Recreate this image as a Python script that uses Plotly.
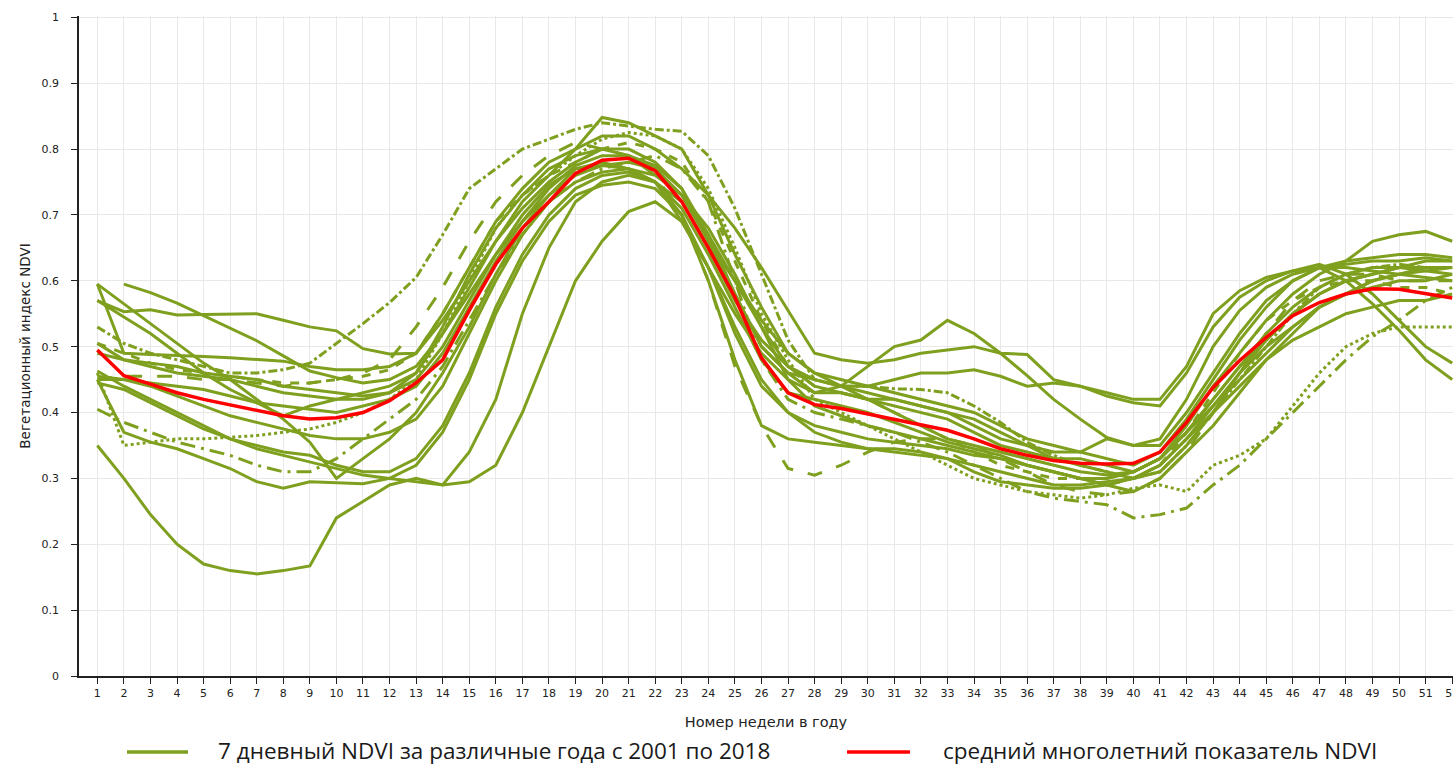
import plotly.graph_objects as go

weeks = list(range(1, 53))
week_labels = [str(w) for w in weeks]

S1 = [0.35,0.30,0.245,0.20,0.17,0.16,0.155,0.16,0.167,0.24,0.265,0.29, 0.30,0.29,0.295,0.32,0.40,0.50,0.60, 0.66,0.705,0.72,0.69,0.62,0.53,0.45,0.40, 0.37,0.355,0.345,0.34,0.335,0.33,0.32,0.31,0.30,0.29,0.29,0.295,0.30,0.32, 0.36,0.41,0.46,0.50,0.53,0.56,0.58,0.59,0.60,0.60,0.61]
S2 = [None,0.595,0.582,0.566,0.547,0.527,0.509,0.486,0.463,0.453,0.445,0.45, 0.47,0.52,0.58,0.64,0.69,0.73,0.76, 0.775,0.78,0.77,0.73,0.67,0.60,0.53,0.47, 0.44,0.43,0.42,0.41,0.40,0.39,0.37,0.35,0.34,0.33,0.33,0.32,0.31,0.33, 0.37,0.42,0.47,0.52,0.56,0.59,0.61,0.62,0.62,0.615,0.61]
S3 = [0.53,0.505,0.49,0.48,0.47,0.46,0.46,0.465,0.475,0.505,0.535,0.567, 0.605,0.67,0.74,0.77,0.80,0.815,0.83, 0.84,0.835,0.83,0.827,0.79,0.71,0.61,0.51, 0.45,0.44,0.44,0.436,0.435,0.43,0.41,0.385,0.355,0.335,0.32,0.31,0.30,0.31, 0.35,0.40,0.45,0.50,0.55,0.59,0.61,0.62,0.625,0.62,0.62]
S4 = [0.57,0.553,0.556,0.548,0.549,0.55,0.55,0.54,0.53,0.524,0.497,0.489, 0.49,0.55,0.62,0.69,0.74,0.78,0.80, 0.82,0.82,0.80,0.77,0.73,0.68,0.62,0.555, 0.49,0.48,0.475,0.48,0.49,0.495,0.50,0.49,0.488,0.45,0.44,0.425,0.415,0.41, 0.46,0.53,0.575,0.60,0.615,0.62,0.62,0.615,0.61,0.605,0.60]
S5 = [0.595,0.49,0.488,0.487,0.485,0.483,0.48,0.478,0.47,0.465,0.465,0.47, 0.49,0.54,0.60,0.66,0.71,0.75,0.78, 0.80,0.80,0.78,0.74,0.66,0.58,0.50,0.46, 0.45,0.44,0.44,0.45,0.46,0.46,0.465,0.455,0.44,0.445,0.44,0.43,0.42,0.42, 0.47,0.55,0.585,0.605,0.615,0.625,0.61,0.58,0.54,0.50,0.475]
S6 = [0.595,0.565,0.535,0.505,0.475,0.45,0.42,0.39,0.355,0.30,0.33,0.36, 0.40,0.46,0.53,0.61,0.68,0.73,0.77, 0.78,0.77,0.75,0.70,0.62,0.52,0.44,0.40, 0.38,0.37,0.36,0.355,0.35,0.345,0.335,0.33,0.32,0.31,0.30,0.30,0.31,0.33, 0.37,0.41,0.45,0.49,0.53,0.56,0.58,0.60,0.61,0.615,0.62]
S7 = [0.57,0.545,0.52,0.49,0.46,0.435,0.415,0.395,0.41,0.42,0.43,0.44, 0.46,0.52,0.59,0.66,0.72,0.76,0.80, 0.848,0.84,0.82,0.80,0.73,0.64,0.56,0.49, 0.46,0.45,0.44,0.43,0.42,0.41,0.40,0.38,0.36,0.35,0.34,0.33,0.32,0.34, 0.39,0.45,0.51,0.56,0.60,0.62,0.625,0.63,0.63,0.635,0.63]
S8 = [0.46,0.35,0.355,0.36,0.36,0.362,0.365,0.37,0.375,0.385,0.40,0.42, 0.45,0.52,0.60,0.68,0.73,0.76,0.79, 0.815,0.825,0.82,0.80,0.74,0.65,0.55,0.48, 0.42,0.40,0.38,0.36,0.34,0.32,0.30,0.29,0.28,0.275,0.27,0.275,0.285,0.29, 0.28,0.32,0.335,0.36,0.41,0.46,0.50,0.52,0.53,0.53,0.53]
S9 = [0.405,0.385,0.37,0.355,0.345,0.335,0.32,0.31,0.31,0.33,0.36,0.39, 0.42,0.47,0.54,0.61,0.67,0.72,0.75, 0.77,0.78,0.79,0.77,0.72,0.60,0.48,0.42, 0.40,0.39,0.38,0.37,0.355,0.34,0.32,0.30,0.28,0.27,0.265,0.26,0.24,0.245, 0.255,0.29,0.32,0.36,0.40,0.44,0.48,0.515,0.54,0.57,0.59]
S10 = [0.45,0.455,0.455,0.455,0.45,0.45,0.445,0.44,0.445,0.45,0.46,0.48, 0.53,0.59,0.66,0.72,0.76,0.79,0.81, 0.80,0.79,0.76,0.70,0.60,0.47,0.38,0.315, 0.305,0.32,0.34,0.355,0.36,0.36,0.35,0.33,0.31,0.29,0.28,0.275,0.28,0.30, 0.34,0.40,0.46,0.52,0.57,0.60,0.61,0.61,0.60,0.60,0.60]
S11 = [0.505,0.49,0.475,0.465,0.46,0.455,0.45,0.445,0.445,0.45,0.455,0.465, 0.49,0.55,0.62,0.69,0.73,0.76,0.78, 0.80,0.81,0.80,0.78,0.72,0.63,0.54,0.47, 0.44,0.43,0.42,0.40,0.38,0.36,0.34,0.32,0.31,0.30,0.30,0.29,0.30,0.32, 0.37,0.43,0.49,0.54,0.57,0.59,0.60,0.60,0.59,0.59,0.58]
S12 = [0.445,0.435,0.415,0.395,0.375,0.36,0.345,0.335,0.325,0.315,0.305,0.30, 0.295,0.29,0.34,0.42,0.55,0.65,0.72, 0.75,0.76,0.75,0.71,0.64,0.56,0.48,0.43, 0.42,0.41,0.40,0.385,0.37,0.355,0.345,0.335,0.32,0.31,0.30,0.29,0.28,0.30, 0.34,0.38,0.43,0.48,0.52,0.56,0.58,0.60,0.61,0.62,0.62]
S13 = [0.463,0.44,0.42,0.40,0.38,0.36,0.35,0.34,0.335,0.32,0.31,0.31, 0.33,0.38,0.46,0.56,0.64,0.70,0.74, 0.76,0.765,0.75,0.72,0.65,0.57,0.51,0.47, 0.45,0.44,0.43,0.42,0.41,0.40,0.39,0.37,0.35,0.33,0.32,0.31,0.30,0.31, 0.35,0.40,0.46,0.51,0.55,0.58,0.60,0.61,0.62,0.62,0.62]
S14 = [0.45,0.37,0.355,0.345,0.33,0.315,0.295,0.285,0.295,0.293,0.292,0.30, 0.32,0.37,0.45,0.55,0.63,0.69,0.73, 0.745,0.75,0.74,0.70,0.60,0.48,0.38,0.36, 0.355,0.35,0.345,0.345,0.34,0.33,0.31,0.295,0.29,0.285,0.285,0.29,0.30,0.32, 0.36,0.40,0.44,0.48,0.51,0.53,0.55,0.56,0.57,0.57,0.58]
S15 = [0.505,0.48,0.47,0.46,0.455,0.45,0.44,0.43,0.425,0.42,0.42,0.43, 0.45,0.50,0.57,0.64,0.70,0.745,0.77, 0.775,0.77,0.75,0.69,0.62,0.55,0.49,0.45, 0.43,0.44,0.47,0.50,0.51,0.54,0.52,0.49,0.456,0.42,0.39,0.362,0.35,0.35, 0.40,0.46,0.52,0.57,0.60,0.62,0.63,0.635,0.64,0.64,0.635]
S16 = [0.45,0.45,0.445,0.44,0.435,0.425,0.415,0.41,0.405,0.40,0.41,0.42, 0.44,0.49,0.56,0.63,0.69,0.74,0.775, 0.79,0.79,0.77,0.73,0.66,0.60,0.54,0.49, 0.46,0.44,0.42,0.40,0.38,0.36,0.35,0.34,0.33,0.32,0.31,0.305,0.31,0.33, 0.38,0.44,0.49,0.54,0.58,0.61,0.63,0.66,0.67,0.675,0.66]
S17 = [0.49,0.48,0.475,0.47,0.46,0.455,0.45,0.44,0.435,0.43,0.425,0.43, 0.46,0.53,0.61,0.68,0.73,0.77,0.79, 0.80,0.79,0.775,0.74,0.67,0.58,0.50,0.46, 0.43,0.43,0.42,0.42,0.41,0.40,0.38,0.36,0.35,0.34,0.34,0.36,0.35,0.36, 0.42,0.50,0.555,0.59,0.61,0.62,0.60,0.565,0.525,0.48,0.45]
S18 = [0.455,0.45,0.44,0.425,0.41,0.395,0.385,0.375,0.365,0.36,0.36,0.37, 0.39,0.44,0.52,0.60,0.67,0.72,0.75, 0.765,0.77,0.76,0.73,0.68,0.61,0.53,0.45, 0.41,0.395,0.38,0.37,0.36,0.35,0.34,0.33,0.32,0.31,0.30,0.30,0.31,0.33, 0.37,0.42,0.47,0.51,0.55,0.58,0.60,0.61,0.62,0.63,0.63]

mean_ndvi = [0.495,0.456,0.443,0.43,0.42,0.412,0.403,0.395,0.39,0.392,0.40,0.418, 0.445,0.48,0.555,0.625,0.68,0.72,0.763, 0.783,0.786,0.767,0.72,0.65,0.575,0.483,0.43, 0.412,0.406,0.398,0.39,0.382,0.373,0.36,0.345,0.335,0.327,0.323,0.322,0.323,0.34, 0.385,0.438,0.479,0.514,0.547,0.567,0.58,0.588,0.587,0.58,0.574]

years = [S1, S2, S3, S4, S5, S6, S7, S8, S9, S10, S11, S12, S13, S14, S15, S16, S17, S18]
dashes = ["solid", "solid", "dashdot", "solid", "solid", "solid", "solid", "dot", "longdashdot",
          "longdash", "dash", "solid", "solid", "solid", "solid", "solid", "solid", "solid"]

legend_green = "7 дневный NDVI за различные года с 2001 по 2018"
legend_red = "средний многолетний показатель NDVI"

GREEN = "#7FA01F"
RED = "#FF0000"

fig = go.Figure()
for i, (vals, d) in enumerate(zip(years, dashes)):
    fig.add_trace(go.Scatter(
        x=weeks, y=vals, mode="lines", name=legend_green,
        line=dict(color=GREEN, width=3, dash=d),
        showlegend=False, hoverinfo="skip"))
fig.add_trace(go.Scatter(
    x=weeks, y=mean_ndvi, mode="lines", name=legend_red,
    line=dict(color=RED, width=3.5), showlegend=False))

W, H = 1453, 766
L, T, B = 79, 16, 90
plot_w = W - L
plot_h = H - T - B

def px_x(x):
    return (x - L) / plot_w

def px_y(y):
    return (H - B - y) / plot_h

# manual legend
ly = 752
fig.add_shape(type="line", xref="paper", yref="paper", x0=px_x(127), x1=px_x(188),
              y0=px_y(ly), y1=px_y(ly), line=dict(color=GREEN, width=3.5))
fig.add_shape(type="line", xref="paper", yref="paper", x0=px_x(847), x1=px_x(910),
              y0=px_y(ly), y1=px_y(ly), line=dict(color=RED, width=3.5))
fig.add_annotation(xref="paper", yref="paper", x=px_x(216), y=px_y(750), text=legend_green,
                   showarrow=False, xanchor="left", yanchor="middle",
                   font=dict(family="Open Sans", size=22.5, color="#1a1a1a"))
fig.add_annotation(xref="paper", yref="paper", x=px_x(941), y=px_y(750), text=legend_red,
                   showarrow=False, xanchor="left", yanchor="middle",
                   font=dict(family="Open Sans", size=22.5, color="#1a1a1a"))

fig.update_layout(
    width=W, height=H,
    margin=dict(l=L, r=0, t=T, b=B, pad=0),
    paper_bgcolor="white", plot_bgcolor="white",
    showlegend=False,
    font=dict(family="DejaVu Sans", size=11, color="#222"),
    xaxis=dict(
        range=[0.31, 52.03], tickmode="array", tickvals=weeks, ticktext=week_labels,
        ticklabeloverflow="allow",
        showgrid=True, gridcolor="#e8e8e8", gridwidth=1,
        showline=True, linecolor="#222", linewidth=1.5,
        ticks="outside", ticklen=6, tickcolor="#222",
        tickfont=dict(family="DejaVu Sans", size=11, color="#222"),
        title=dict(text="Номер недели в году", standoff=18,
                   font=dict(family="DejaVu Sans", size=14.5, color="#222")),
        zeroline=False, automargin=False, fixedrange=True,
    ),
    yaxis=dict(
        range=[0, 1.002], dtick=0.1, tick0=0,
        showgrid=True, gridcolor="#e8e8e8", gridwidth=1,
        showline=True, linecolor="#222", linewidth=1.5,
        ticks="outside", ticklen=6, tickcolor="#222",
        ticklabelstandoff=10,
        tickfont=dict(family="DejaVu Sans", size=11, color="#222"),
        title=dict(text="Вегетационный индекс NDVI", standoff=8,
                   font=dict(family="DejaVu Sans", size=13.5, color="#222")),
        zeroline=False, automargin=False, fixedrange=True,
    ),
)

fig.write_html("out.html")
